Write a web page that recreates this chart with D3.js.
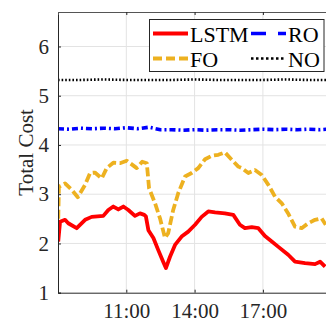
<!DOCTYPE html>
<html>
<head>
<meta charset="utf-8">
<script src="https://cdn.jsdelivr.net/npm/d3@7"></script>
<style>
  body { margin: 0; background: #fff; }
  svg { display: block; font-family: "Liberation Serif", "DejaVu Serif", serif; }
</style>
</head>
<body>
<svg id="chart" width="326" height="322"></svg>
<script>
// hours of day (decimal) and values
const lstmHours = [8.01, 8.09, 8.31, 8.45, 8.82, 9.19, 9.48, 9.99, 10.21, 10.43, 10.65, 10.87, 11.09, 11.38, 11.6, 11.79, 11.86, 11.97, 12.19, 12.4, 12.62, 12.74, 12.92, 13.14, 13.43, 13.72, 14.02, 14.31, 14.6, 14.9, 15.33, 15.7, 15.99, 16.21, 16.51, 16.8, 17.09, 17.39, 17.68, 18.11, 18.41, 18.85, 19.29, 19.51, 19.73];
const lstmValues = [2.04, 2.44, 2.48, 2.41, 2.31, 2.48, 2.54, 2.56, 2.68, 2.75, 2.69, 2.75, 2.68, 2.56, 2.61, 2.58, 2.55, 2.27, 2.11, 1.87, 1.63, 1.5, 1.73, 1.97, 2.14, 2.24, 2.38, 2.54, 2.65, 2.63, 2.61, 2.58, 2.38, 2.31, 2.33, 2.31, 2.15, 2.04, 1.93, 1.77, 1.63, 1.6, 1.58, 1.63, 1.53];

const foHours = [8.0, 8.04, 8.31, 8.6, 8.87, 9.19, 9.41, 9.62, 9.92, 10.14, 10.43, 10.72, 11.02, 11.46, 11.7, 11.9, 12.0, 12.26, 12.48, 12.7, 12.84, 13.06, 13.28, 13.58, 13.87, 14.16, 14.46, 14.75, 15.04, 15.33, 15.63, 15.92, 16.07, 16.36, 16.65, 16.95, 17.24, 17.53, 17.82, 18.11, 18.41, 18.7, 18.99, 19.29, 19.58, 19.76];
const foValues = [2.25, 3.15, 3.22, 3.09, 2.94, 3.19, 3.43, 3.44, 3.32, 3.53, 3.64, 3.63, 3.68, 3.53, 3.66, 3.63, 3.12, 2.82, 2.51, 2.11, 2.21, 2.68, 3.02, 3.36, 3.43, 3.53, 3.71, 3.78, 3.8, 3.85, 3.7, 3.56, 3.53, 3.43, 3.49, 3.39, 3.19, 2.95, 2.82, 2.61, 2.34, 2.31, 2.41, 2.48, 2.51, 2.38];

const roHours = [8.0, 8.5, 9.0, 9.5, 10.0, 10.5, 11.0, 11.5, 12.0, 12.5, 13.0, 13.5, 14.0, 14.5, 15.0, 15.5, 16.0, 16.5, 17.0, 17.5, 18.0, 18.5, 19.0, 19.5, 19.8];
const roValues = [4.33, 4.32, 4.34, 4.33, 4.34, 4.33, 4.35, 4.33, 4.36, 4.31, 4.31, 4.3, 4.31, 4.3, 4.31, 4.31, 4.3, 4.31, 4.32, 4.31, 4.32, 4.31, 4.32, 4.31, 4.32];

const noHours = [8.0, 9.0, 10.0, 11.0, 12.0, 13.0, 14.0, 15.0, 16.0, 17.0, 18.0, 19.0, 19.8];
const noValues = [5.32, 5.32, 5.33, 5.32, 5.32, 5.32, 5.33, 5.32, 5.32, 5.32, 5.33, 5.32, 5.32];

const xTicks = [11, 14, 17];
const yTicks = [1, 2, 3, 4, 5, 6];
const seriesNames = ["LSTM", "FO", "RO", "NO"];

const svg = d3.select("#chart");
const plotLeft = 58, plotTop = 12, plotBottom = 292.7, plotRight = 331.2;

const x = d3.scaleLinear().domain([8, 20]).range([plotLeft, plotRight]);
const y = d3.scaleLinear().domain([1, 6.7]).range([plotBottom, plotTop]);

const axisColor = "#262626";
const gridColor = "#e3e3e3";

// grid
svg.append("g").selectAll("line").data(yTicks.slice(1)).enter().append("line")
  .attr("x1", plotLeft).attr("x2", plotRight)
  .attr("y1", d => y(d)).attr("y2", d => y(d))
  .attr("stroke", gridColor).attr("stroke-width", 1);
svg.append("g").selectAll("line").data(xTicks).enter().append("line")
  .attr("x1", d => x(d)).attr("x2", d => x(d))
  .attr("y1", plotTop).attr("y2", plotBottom)
  .attr("stroke", gridColor).attr("stroke-width", 1);

// clip for lines
svg.append("clipPath").attr("id", "clip").append("rect")
  .attr("x", plotLeft).attr("y", plotTop)
  .attr("width", plotRight - plotLeft).attr("height", plotBottom - plotTop);

const line = d3.line().x(d => x(d[0])).y(d => y(d[1]));
const plot = svg.append("g").attr("clip-path", "url(#clip)");

const styles = {
  LSTM: { color: "#ff0000", width: 3.8, dash: null, legendDash: null },
  FO: { color: "#edb120", width: 3.8, dash: "9,3.5", legendDash: "9,4" },
  RO: { color: "#0000ff", width: 3.6, dash: "6,3,2,3", legendDash: "15,12,8,50" },
  NO: { color: "#000000", width: 2.6, dash: "1.6,2", legendDash: "2.5,2.5" }
};

function drawSeries(name, hours, values) {
  const s = styles[name];
  plot.append("path")
    .datum(d3.zip(hours, values))
    .attr("d", line)
    .attr("fill", "none")
    .attr("stroke", s.color)
    .attr("stroke-width", s.width)
    .attr("stroke-linejoin", "round")
    .attr("stroke-dasharray", s.dash);
}
drawSeries("NO", noHours, noValues);
drawSeries("RO", roHours, roValues);
drawSeries("FO", foHours, foValues);
drawSeries("LSTM", lstmHours, lstmValues);

// axes
const yAxis = d3.axisLeft(y).tickValues(yTicks).tickSize(-3).tickPadding(9).tickFormat(d3.format("d"));
const gy = svg.append("g").attr("transform", `translate(${plotLeft},0)`).call(yAxis);
const xAxis = d3.axisBottom(x).tickValues(xTicks).tickSize(-3).tickPadding(10).tickFormat(d => d + ":00");
const gx = svg.append("g").attr("transform", `translate(0,${plotBottom})`).call(xAxis);
const xTop = d3.axisTop(x).tickValues(xTicks).tickSize(-3).tickFormat("");
const gt = svg.append("g").attr("transform", `translate(0,${plotTop})`).call(xTop);

[gx, gy, gt].forEach(g => {
  g.selectAll("path.domain").attr("stroke", axisColor).attr("stroke-width", 1);
  g.selectAll(".tick line").attr("stroke", axisColor);
  g.selectAll("text").attr("fill", axisColor).style("font-size", "21px")
    .style("font-family", "'Liberation Serif', serif");
});
gt.select("path.domain").attr("stroke", "#555");

svg.append("text")
  .attr("transform", `translate(33,${(plotTop + plotBottom) / 2}) rotate(-90)`)
  .attr("text-anchor", "middle")
  .attr("fill", axisColor)
  .style("font-size", "21px")
  .text("Total Cost");

// legend
const legend = svg.append("g");
legend.append("rect")
  .attr("x", 149.5).attr("y", 19.5).attr("width", 174.5).attr("height", 52)
  .attr("fill", "#fff").attr("stroke", axisColor).attr("stroke-width", 1);

const legendPos = {
  LSTM: [153, 33.5], FO: [153, 58.5], RO: [251, 33.5], NO: [251, 58.5]
};
seriesNames.forEach(name => {
  const s = styles[name];
  const [lx, ly] = legendPos[name];
  legend.append("line")
    .attr("x1", lx).attr("x2", lx + 35).attr("y1", ly).attr("y2", ly)
    .attr("stroke", s.color).attr("stroke-width", s.width)
    .attr("stroke-dasharray", s.legendDash);
  legend.append("text")
    .attr("x", lx + 37).attr("y", ly + 8)
    .attr("fill", "#000")
    .style("font-size", "22px")
    .text(name);
});
</script>
</body>
</html>
